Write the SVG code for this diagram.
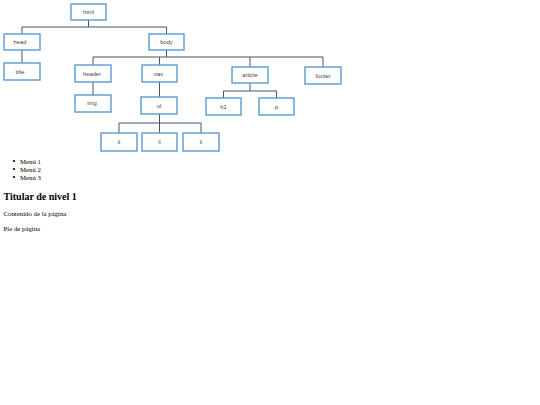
<svg xmlns="http://www.w3.org/2000/svg" width="540" height="405" viewBox="0 0 540 405">
<style>
.box{fill:#fff;stroke:#5b9bd5;stroke-width:1.4}
.lbl{font-family:"Liberation Sans",Arial,sans-serif;font-size:5.8px;fill:#444;text-anchor:middle}
.con{fill:none;stroke:#44546a;stroke-width:1}
.ser{font-family:"Liberation Serif","Times New Roman",serif;fill:#000}
</style>
<rect width="540" height="405" fill="#fff"/>
<g id="connectors" class="con">
<path d="M88.5 20V27M22 27H166.5M22 27V34M166.5 27V34"/>
<path d="M22 50V63"/>
<path d="M166.5 50V57M93 57H323M93 57V65M159.5 57V65M250 57V67M323 57V67"/>
<path d="M93 82V95"/>
<path d="M159.5 82V97"/>
<path d="M250 83V91M223.5 91H276.5M223.5 91V98M276.5 91V98"/>
<path d="M159.5 114V123M119 123H201M119 123V133M159.5 123V133M201 123V133"/>
</g>
<g id="html"><rect class="box" x="71" y="4" width="35" height="16"/><text class="lbl" x="88.5" y="14">html</text></g>
<g id="head"><rect class="box" x="4" y="34" width="36" height="16"/><text class="lbl" x="20" y="44">head</text></g>
<g id="title"><rect class="box" x="4" y="63" width="36" height="17"/><text class="lbl" x="20" y="73.5">title</text></g>
<g id="body"><rect class="box" x="149" y="34" width="35" height="16"/><text class="lbl" x="166.5" y="44">body</text></g>
<g id="header"><rect class="box" x="75" y="65" width="36" height="17"/><text class="lbl" x="92" y="75.5">header</text></g>
<g id="nav"><rect class="box" x="142" y="65" width="35" height="17"/><text class="lbl" x="158.5" y="75.5">nav</text></g>
<g id="article"><rect class="box" x="232" y="67" width="36" height="16"/><text class="lbl" x="250" y="77">article</text></g>
<g id="footer"><rect class="box" x="305" y="67" width="36" height="17"/><text class="lbl" x="323" y="77.5">footer</text></g>
<g id="img"><rect class="box" x="75" y="95" width="36" height="17"/><text class="lbl" x="92" y="104.5">img</text></g>
<g id="ul"><rect class="box" x="141" y="97" width="36" height="17"/><text class="lbl" x="159" y="107.5">ul</text></g>
<g id="h1"><rect class="box" x="206" y="98" width="35" height="17"/><text class="lbl" x="223.5" y="108.5">h1</text></g>
<g id="p"><rect class="box" x="259" y="98" width="35" height="17"/><text class="lbl" x="276.5" y="108.5">p</text></g>
<g id="li1"><rect class="box" x="101" y="133" width="36" height="18"/><text class="lbl" x="119" y="144">li</text></g>
<g id="li2"><rect class="box" x="142" y="133" width="35" height="18"/><text class="lbl" x="159.5" y="144">li</text></g>
<g id="li3"><rect class="box" x="183" y="133" width="36" height="18"/><text class="lbl" x="201" y="144">li</text></g>
<g id="page-text" class="ser">
<circle cx="14" cy="161" r="1.1" fill="#000"/>
<circle cx="14" cy="169" r="1.1" fill="#000"/>
<circle cx="14" cy="177" r="1.1" fill="#000"/>
<text x="20" y="163.5" font-size="6.8">Menú 1</text>
<text x="20" y="171.5" font-size="6.8">Menú 2</text>
<text x="20" y="179.5" font-size="6.8">Menú 3</text>
<text x="3.5" y="200" font-size="10" font-weight="bold">Titular de nivel 1</text>
<text x="3.5" y="216" font-size="6.8">Contenido de la página</text>
<text x="3.5" y="230.5" font-size="6.8">Pie de página</text>
</g>
</svg>
